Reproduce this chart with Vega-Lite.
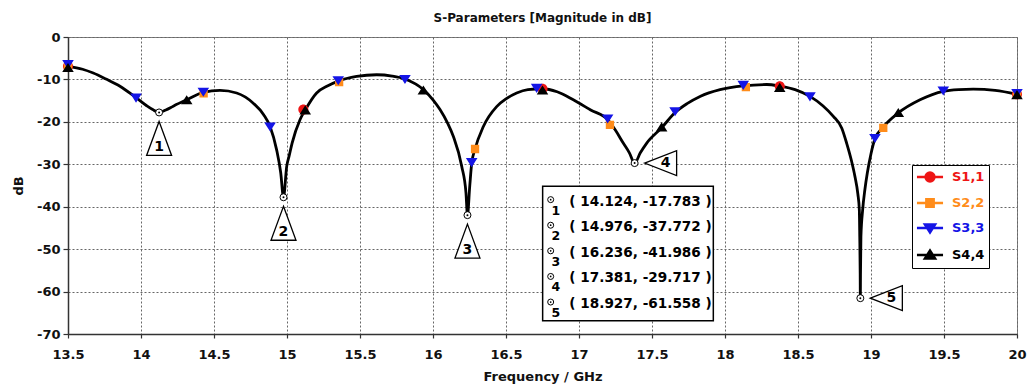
{
  "$schema": "https://vega.github.io/schema/vega-lite/v6.json",
  "width": 949,
  "height": 297,
  "autosize": {"type": "none"},
  "padding": {"left": 68, "top": 37, "right": 10, "bottom": 54},
  "background": "white",
  "title": {
    "text": "S-Parameters [Magnitude in dB]",
    "font": "DejaVu Sans",
    "fontSize": 12,
    "fontWeight": "bold",
    "color": "#111111",
    "anchor": "middle",
    "frame": "group",
    "offset": 6
  },
  "datasets": {
    "curve": [
      {"freq": 13.5, "db": -6.9}, {"freq": 13.6, "db": -7.6}, {"freq": 13.673, "db": -8.5},
      {"freq": 13.76, "db": -9.9}, {"freq": 13.856, "db": -11.6}, {"freq": 13.966, "db": -14.3},
      {"freq": 14.039, "db": -16.2}, {"freq": 14.08, "db": -17.1}, {"freq": 14.124, "db": -17.783},
      {"freq": 14.17, "db": -17.2}, {"freq": 14.221, "db": -16.3}, {"freq": 14.313, "db": -14.8},
      {"freq": 14.427, "db": -13.05}, {"freq": 14.541, "db": -12.6}, {"freq": 14.655, "db": -13.2},
      {"freq": 14.769, "db": -15.6}, {"freq": 14.84, "db": -18.3}, {"freq": 14.884, "db": -21.1},
      {"freq": 14.929, "db": -26.6}, {"freq": 14.957, "db": -32}, {"freq": 14.976, "db": -37.772},
      {"freq": 14.998, "db": -30.5}, {"freq": 15.015, "db": -28}, {"freq": 15.035, "db": -25},
      {"freq": 15.089, "db": -19.5}, {"freq": 15.125, "db": -17.2}, {"freq": 15.203, "db": -13.2},
      {"freq": 15.28, "db": -11.5}, {"freq": 15.351, "db": -10.4}, {"freq": 15.477, "db": -9.3},
      {"freq": 15.614, "db": -8.9}, {"freq": 15.72, "db": -9.2}, {"freq": 15.808, "db": -9.9},
      {"freq": 15.934, "db": -12.4}, {"freq": 16.0, "db": -14.8}, {"freq": 16.048, "db": -17.1},
      {"freq": 16.1, "db": -20.3}, {"freq": 16.139, "db": -23.4}, {"freq": 16.197, "db": -30.5},
      {"freq": 16.226, "db": -36.8}, {"freq": 16.236, "db": -41.986}, {"freq": 16.252, "db": -35},
      {"freq": 16.265, "db": -29.8}, {"freq": 16.288, "db": -26.4}, {"freq": 16.345, "db": -21.1},
      {"freq": 16.436, "db": -16.4}, {"freq": 16.5, "db": -14.6}, {"freq": 16.573, "db": -13.2},
      {"freq": 16.65, "db": -12.4}, {"freq": 16.75, "db": -12.2}, {"freq": 16.85, "db": -12.9},
      {"freq": 16.961, "db": -14.8}, {"freq": 17.08, "db": -17.2}, {"freq": 17.2, "db": -19.6},
      {"freq": 17.25, "db": -22}, {"freq": 17.303, "db": -25}, {"freq": 17.345, "db": -27.3},
      {"freq": 17.381, "db": -29.717}, {"freq": 17.42, "db": -27.3}, {"freq": 17.464, "db": -25},
      {"freq": 17.566, "db": -21.4}, {"freq": 17.658, "db": -17.8}, {"freq": 17.74, "db": -15.7},
      {"freq": 17.829, "db": -14}, {"freq": 17.966, "db": -12.4}, {"freq": 18.125, "db": -11.5},
      {"freq": 18.286, "db": -11.2}, {"freq": 18.377, "db": -11.6}, {"freq": 18.48, "db": -12.4},
      {"freq": 18.582, "db": -14}, {"freq": 18.67, "db": -16.2}, {"freq": 18.742, "db": -18.7},
      {"freq": 18.8, "db": -21.5}, {"freq": 18.833, "db": -25}, {"freq": 18.865, "db": -29},
      {"freq": 18.89, "db": -32.9}, {"freq": 18.91, "db": -37}, {"freq": 18.92, "db": -40.7},
      {"freq": 18.923, "db": -47}, {"freq": 18.926, "db": -56}, {"freq": 18.927, "db": -61.558},
      {"freq": 18.928, "db": -56}, {"freq": 18.931, "db": -47}, {"freq": 18.943, "db": -40.7},
      {"freq": 18.958, "db": -36}, {"freq": 18.975, "db": -32}, {"freq": 19.0, "db": -27.5},
      {"freq": 19.027, "db": -24}, {"freq": 19.084, "db": -21.2}, {"freq": 19.187, "db": -17.9},
      {"freq": 19.336, "db": -14.8}, {"freq": 19.495, "db": -12.8}, {"freq": 19.6, "db": -12.4},
      {"freq": 19.7, "db": -12.3}, {"freq": 19.85, "db": -12.6}, {"freq": 20.0, "db": -13.5}
    ],
    "traceMarkers": [
      {"series": "S1,1", "freq": 13.5, "db": -6.9},
      {"series": "S1,1", "freq": 15.112, "db": -17.1},
      {"series": "S1,1", "freq": 16.75, "db": -12.2},
      {"series": "S1,1", "freq": 18.375, "db": -11.6},
      {"series": "S1,1", "freq": 20.0, "db": -13.5},
      {"series": "S2,2", "freq": 13.5, "db": -7.2},
      {"series": "S2,2", "freq": 14.429, "db": -13.3},
      {"series": "S2,2", "freq": 15.357, "db": -10.6},
      {"series": "S2,2", "freq": 16.288, "db": -26.4},
      {"series": "S2,2", "freq": 17.212, "db": -20.7},
      {"series": "S2,2", "freq": 18.143, "db": -11.8},
      {"series": "S2,2", "freq": 19.084, "db": -21.4},
      {"series": "S2,2", "freq": 20.0, "db": -13.3},
      {"series": "S3,3", "freq": 13.5, "db": -6.4},
      {"series": "S3,3", "freq": 13.966, "db": -14.3},
      {"series": "S3,3", "freq": 14.427, "db": -12.9},
      {"series": "S3,3", "freq": 14.884, "db": -21.1},
      {"series": "S3,3", "freq": 15.351, "db": -10.2},
      {"series": "S3,3", "freq": 15.808, "db": -9.9},
      {"series": "S3,3", "freq": 16.265, "db": -29.5},
      {"series": "S3,3", "freq": 16.71, "db": -12.0},
      {"series": "S3,3", "freq": 17.196, "db": -19.2},
      {"series": "S3,3", "freq": 17.658, "db": -17.5},
      {"series": "S3,3", "freq": 18.125, "db": -11.3},
      {"series": "S3,3", "freq": 18.582, "db": -14.0},
      {"series": "S3,3", "freq": 19.027, "db": -23.8},
      {"series": "S3,3", "freq": 19.495, "db": -12.6},
      {"series": "S3,3", "freq": 20.0, "db": -13.2},
      {"series": "S4,4", "freq": 13.5, "db": -7.3},
      {"series": "S4,4", "freq": 14.313, "db": -14.9},
      {"series": "S4,4", "freq": 15.125, "db": -17.3},
      {"series": "S4,4", "freq": 15.934, "db": -12.6},
      {"series": "S4,4", "freq": 16.75, "db": -12.6},
      {"series": "S4,4", "freq": 17.566, "db": -21.3},
      {"series": "S4,4", "freq": 18.375, "db": -12.0},
      {"series": "S4,4", "freq": 19.187, "db": -17.9},
      {"series": "S4,4", "freq": 20.0, "db": -13.7}
    ],
    "markerTable": [
      {"id": 1, "freq": 14.124, "db": -17.783},
      {"id": 2, "freq": 14.976, "db": -37.772},
      {"id": 3, "freq": 16.236, "db": -41.986},
      {"id": 4, "freq": 17.381, "db": -29.717},
      {"id": 5, "freq": 18.927, "db": -61.558}
    ]
  },
  "layer": [
    {
      "layer": [
        {
          "data": {"name": "curve"},
          "mark": {"type": "line", "color": "black", "strokeWidth": 2.8, "interpolate": "monotone"},
          "encoding": {
            "x": {
              "field": "freq", "type": "quantitative", "title": "Frequency / GHz",
              "scale": {"domain": [13.5, 20], "nice": false, "zero": false},
              "axis": {
                "values": [13.5, 14, 14.5, 15, 15.5, 16, 16.5, 17, 17.5, 18, 18.5, 19, 19.5, 20],
                "labelExpr": "'' + datum.value",
                "tickSize": 4, "labelPadding": 10, "titlePadding": 9, "labelFlush": false, "labelOverlap": false
              }
            },
            "y": {
              "field": "db", "type": "quantitative", "title": "dB",
              "scale": {"domain": [-70, 0], "nice": false, "zero": false},
              "axis": {
                "values": [-70, -60, -50, -40, -30, -20, -10, 0],
                "labelExpr": "'' + datum.value",
                "tickSize": 5, "labelPadding": 3, "titlePadding": 11, "labelFlush": false
              }
            }
          }
        },
        {
          "data": {"name": "traceMarkers"},
          "mark": {"type": "point", "filled": true, "opacity": 1, "strokeWidth": 0, "size": 220},
          "encoding": {
            "x": {"field": "freq", "type": "quantitative", "title": "Frequency / GHz"},
            "y": {"field": "db", "type": "quantitative", "title": "dB"},
            "color": {
              "field": "series", "type": "nominal",
              "scale": {"domain": ["S1,1", "S2,2", "S3,3", "S4,4"], "range": ["#ee1515", "#ff8c1a", "#1414e6", "#000000"]},
              "legend": {
                "title": null,
                "labelColor": {"expr": "scale('color', datum.value)"},
                "symbolStrokeColor": {"expr": "scale('color', datum.value)"},
                "symbolStrokeWidth": 2.5
              }
            },
            "shape": {
              "field": "series", "type": "nominal",
              "scale": {
                "domain": ["S1,1", "S2,2", "S3,3", "S4,4"],
                "range": [
                  "M-2,0H2M0.68,0A0.68,0.68,0,1,1,-0.68,0A0.68,0.68,0,1,1,0.68,0Z",
                  "M-2,0H2M-0.56,-0.56H0.56V0.56H-0.56Z",
                  "M-2,0H2M-0.78,-0.55H0.78L0,0.68Z",
                  "M-2,0H2M-0.78,0.55H0.78L0,-0.68Z"
                ]
              },
              "legend": {
                "title": null,
                "labelColor": {"expr": "scale('color', datum.value)"},
                "symbolStrokeColor": {"expr": "scale('color', datum.value)"},
                "symbolStrokeWidth": 2.5
              }
            }
          }
        },
        {
          "data": {"name": "markerTable"},
          "mark": {"type": "circle", "size": 49, "fill": "white", "stroke": "black", "strokeWidth": 1, "opacity": 1},
          "encoding": {
            "x": {"field": "freq", "type": "quantitative", "title": "Frequency / GHz"},
            "y": {"field": "db", "type": "quantitative", "title": "dB"}
          }
        },
        {
          "data": {"name": "markerTable"},
          "mark": {"type": "circle", "size": 4, "fill": "black", "opacity": 1},
          "encoding": {
            "x": {"field": "freq", "type": "quantitative", "title": "Frequency / GHz"},
            "y": {"field": "db", "type": "quantitative", "title": "dB"}
          }
        },
        {
          "data": {"name": "markerTable"},
          "transform": [{"filter": "datum.id <= 3"}],
          "mark": {"type": "point", "shape": "M0,-1L0.735,1L-0.735,1Z", "size": 1156, "filled": false, "fill": "white", "stroke": "black", "strokeWidth": 1.3, "opacity": 1, "yOffset": 26},
          "encoding": {
            "x": {"field": "freq", "type": "quantitative", "title": "Frequency / GHz"},
            "y": {"field": "db", "type": "quantitative", "title": "dB"}
          }
        },
        {
          "data": {"name": "markerTable"},
          "transform": [{"filter": "datum.id <= 3"}],
          "mark": {"type": "text", "dy": 35, "font": "DejaVu Sans", "fontWeight": "bold", "fontSize": 14, "baseline": "middle", "color": "black"},
          "encoding": {
            "x": {"field": "freq", "type": "quantitative", "title": "Frequency / GHz"},
            "y": {"field": "db", "type": "quantitative", "title": "dB"},
            "text": {"field": "id"}
          }
        },
        {
          "data": {"name": "markerTable"},
          "transform": [{"filter": "datum.id >= 4"}],
          "mark": {"type": "point", "shape": "M-1,0L1,-0.78L1,0.78Z", "size": 1024, "filled": false, "fill": "white", "stroke": "black", "strokeWidth": 1.3, "opacity": 1, "xOffset": 26},
          "encoding": {
            "x": {"field": "freq", "type": "quantitative", "title": "Frequency / GHz"},
            "y": {"field": "db", "type": "quantitative", "title": "dB"}
          }
        },
        {
          "data": {"name": "markerTable"},
          "transform": [{"filter": "datum.id >= 4"}],
          "mark": {"type": "text", "dx": 31, "font": "DejaVu Sans", "fontWeight": "bold", "fontSize": 14, "baseline": "middle", "color": "black"},
          "encoding": {
            "x": {"field": "freq", "type": "quantitative", "title": "Frequency / GHz"},
            "y": {"field": "db", "type": "quantitative", "title": "dB"},
            "text": {"field": "id"}
          }
        },
        {
          "data": {"values": [{}]},
          "mark": {"type": "rect", "fill": "white", "stroke": "black", "strokeWidth": 1.5},
          "encoding": {
            "x": {"datum": 16.751, "type": "quantitative", "title": "Frequency / GHz"},
            "x2": {"datum": 17.92},
            "y": {"datum": -35.2, "type": "quantitative", "title": "dB"},
            "y2": {"datum": -66.9}
          }
        }
      ]
    },
    {
      "data": {"name": "markerTable"},
      "transform": [
        {"calculate": "'( ' + datum.freq + ', ' + replace(format(datum.db, '.3f'), '\u2212', '-') + ' )'", "as": "label"}
      ],
      "encoding": {
        "y": {
          "field": "id", "type": "quantitative",
          "scale": {"domain": [-5.43, 6.17], "reverse": true, "nice": false, "zero": false},
          "axis": null
        }
      },
      "layer": [
        {
          "mark": {"type": "text", "align": "left", "baseline": "middle", "font": "DejaVu Sans", "fontWeight": "bold", "fontSize": 13.6, "color": "black"},
          "encoding": {
            "x": {"datum": 16.934, "type": "quantitative", "title": "Frequency / GHz"},
            "text": {"field": "label"}
          }
        },
        {
          "mark": {"type": "circle", "size": 36, "fill": "white", "stroke": "black", "strokeWidth": 1, "opacity": 1, "yOffset": -2},
          "encoding": {
            "x": {"datum": 16.806, "type": "quantitative", "title": "Frequency / GHz"}
          }
        },
        {
          "mark": {"type": "circle", "size": 3, "fill": "black", "opacity": 1, "yOffset": -2},
          "encoding": {
            "x": {"datum": 16.806, "type": "quantitative", "title": "Frequency / GHz"}
          }
        },
        {
          "mark": {"type": "text", "align": "center", "baseline": "middle", "dy": 9, "font": "DejaVu Sans", "fontWeight": "bold", "fontSize": 12.5, "color": "black"},
          "encoding": {
            "x": {"datum": 16.842, "type": "quantitative", "title": "Frequency / GHz"},
            "text": {"field": "id"}
          }
        }
      ]
    }
  ],
  "resolve": {"scale": {"y": "independent"}},
  "config": {
    "font": "DejaVu Sans",
    "view": {"stroke": "#808080", "strokeWidth": 1},
    "axis": {
      "labelFont": "DejaVu Sans", "labelFontWeight": "bold", "labelFontSize": 13, "labelColor": "#111111",
      "titleFont": "DejaVu Sans", "titleFontWeight": "bold", "titleFontSize": 13, "titleColor": "#111111",
      "domainColor": "#333333", "domainWidth": 1.5,
      "tickColor": "#333333", "tickWidth": 1.2,
      "grid": true, "gridColor": "#666666", "gridDash": [2, 2], "gridWidth": 1, "gridOpacity": 1
    },
    "legend": {
      "orient": "none", "legendX": 844, "legendY": 128,
      "fillColor": "white", "strokeColor": "black", "padding": 4,
      "labelFont": "DejaVu Sans", "labelFontWeight": "bold", "labelFontSize": 13,
      "labelOffset": 14, "symbolOffset": 6, "rowPadding": 7,
      "symbolSize": 170
    }
  }
}
